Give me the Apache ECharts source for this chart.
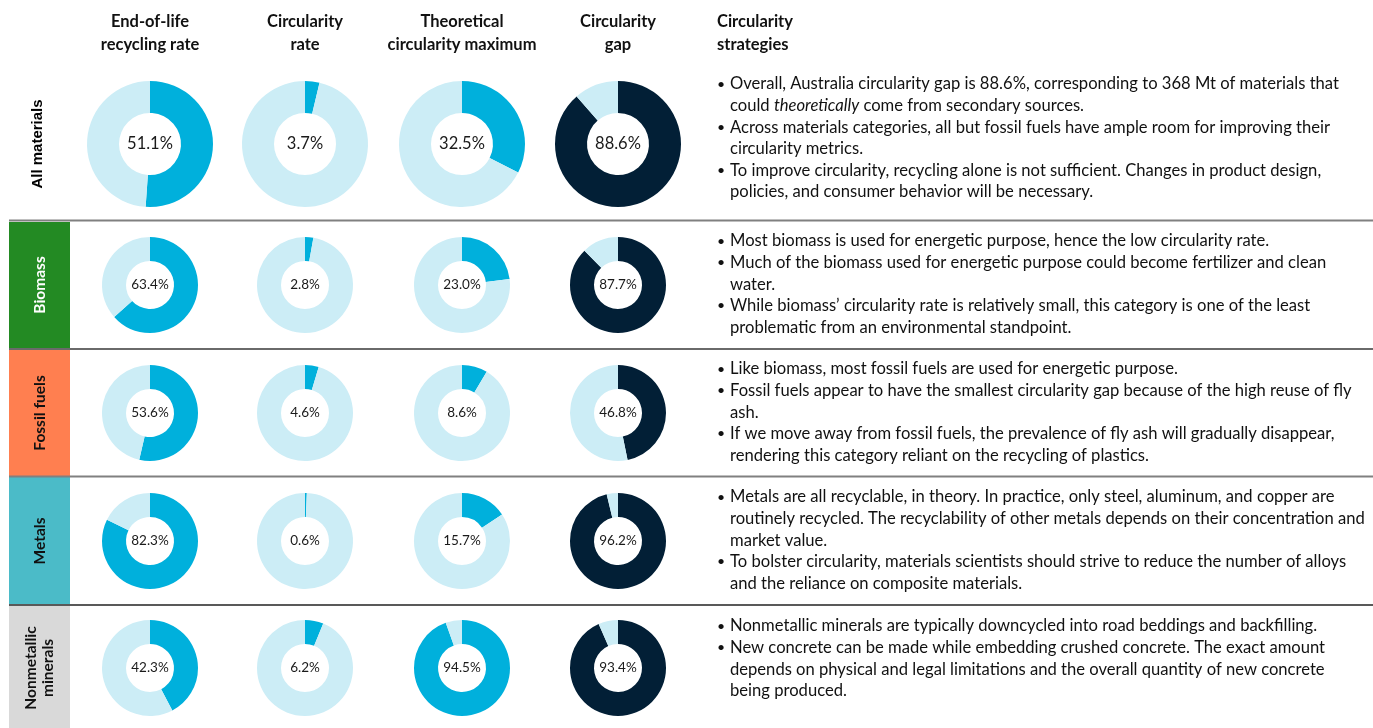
<!DOCTYPE html>
<html>
<head>
<meta charset="utf-8">
<script src="https://cdn.jsdelivr.net/npm/echarts@6/dist/echarts.min.js"></script>
<style>
html,body{margin:0;padding:0;background:#fff;}
#chart{width:1373px;height:728px;}
</style>
</head>
<body>
<div id="chart"></div>
<script>
// ---- data ----
const categories = ['All materials', 'Biomass', 'Fossil fuels', 'Metals', 'Nonmetallic\nminerals'];
const metricTitles = ['End-of-life\nrecycling rate', 'Circularity\nrate', 'Theoretical\ncircularity maximum', 'Circularity\ngap'];
const strategyTitle = 'Circularity\nstrategies';
const eolRecyclingRate = [51.1, 63.4, 53.6, 82.3, 42.3];
const circularityRate = [3.7, 2.8, 4.6, 0.6, 6.2];
const theoreticalMax = [32.5, 23.0, 8.6, 15.7, 94.5];
const circularityGap = [88.6, 87.7, 46.8, 96.2, 93.4];
const strategies = [
  [
    ['Overall, Australia circularity gap is 88.6%, corresponding to 368 Mt of materials that', '{n|could }{i|theoretically}{n| come from secondary sources.}'],
    ['Across materials categories, all but fossil fuels have ample room for improving their', 'circularity metrics.'],
    ['To improve circularity, recycling alone is not sufficient. Changes in product design,', 'policies, and consumer behavior will be necessary.']
  ],
  [
    ['Most biomass is used for energetic purpose, hence the low circularity rate.'],
    ['Much of the biomass used for energetic purpose could become fertilizer and clean', 'water.'],
    ['While biomass\u2019 circularity rate is relatively small, this category is one of the least', 'problematic from an environmental standpoint.']
  ],
  [
    ['Like biomass, most fossil fuels are used for energetic purpose.'],
    ['Fossil fuels appear to have the smallest circularity gap because of the high reuse of fly', 'ash.'],
    ['If we move away from fossil fuels, the prevalence of fly ash will gradually disappear,', 'rendering this category reliant on the recycling of plastics.']
  ],
  [
    ['Metals are all recyclable, in theory. In practice, only steel, aluminum, and copper are', 'routinely recycled. The recyclability of other metals depends on their concentration and', 'market value.'],
    ['To bolster circularity, materials scientists should strive to reduce the number of alloys', 'and the reliance on composite materials.']
  ],
  [
    ['Nonmetallic minerals are typically downcycled into road beddings and backfilling.'],
    ['New concrete can be made while embedding crushed concrete. The exact amount', 'depends on physical and legal limitations and the overall quantity of new concrete', 'being produced.']
  ]
];

// ---- layout / style ----
const FONT = 'Lato, "Noto Sans", sans-serif';
const BODY = 16.6;
const colX = [150, 305, 462, 618];
const rowY = [144, 285, 413, 541, 668];
const radii = [[31, 63], [24, 48], [24, 48], [24, 48], [24, 48]];
const labelSize = [16.5, 13.5, 13.5, 13.5, 13.5];
const textStartY = [84, 241, 369, 497, 626];
const lineH = 21.6;
const boxColors = [null, '#238a23', '#ff7f50', '#4bbbc8', '#d9d9d9'];
const boxText = [null, '#ffffff', '#111111', '#111111', '#111111'];
const boxTop = [null, 222, 350, 477, 606];
const boxBottom = [null, 348, 476, 604, 728];
const sepLines = [{y: 220.5, c: '#808080', w: 2}, {y: 349, c: '#6a6a6a', w: 2}, {y: 476.5, c: '#808080', w: 2}, {y: 605, c: '#222222', w: 1.5}];
const BLUE = '#00b0dc', LIGHT = '#ccedf6', NAVY = '#021f36';

const valuesByCol = [eolRecyclingRate, circularityRate, theoreticalMax, circularityGap];

const series = [];
for (let r = 0; r < categories.length; r++) {
  for (let c = 0; c < 4; c++) {
    const v = valuesByCol[c][r];
    series.push({
      type: 'pie',
      silent: true,
      animation: false,
      center: [colX[c], rowY[r]],
      radius: radii[r],
      startAngle: 90,
      clockwise: true,
      emphasis: {disabled: true},
      labelLine: {show: false},
      label: {
        show: true,
        position: 'center',
        fontFamily: FONT,
        fontSize: labelSize[r],
        color: '#1a1a1a',
        formatter: p => p.value.toFixed(1) + '%'
      },
      data: [
        {value: v, itemStyle: {color: c === 3 ? NAVY : BLUE}},
        {value: +(100 - v).toFixed(1), itemStyle: {color: LIGHT}, label: {show: false}}
      ]
    });
  }
}

const elements = [];
// row boxes
for (let r = 1; r < categories.length; r++) {
  elements.push({type: 'rect', shape: {x: 9, y: boxTop[r], width: 61, height: boxBottom[r] - boxTop[r]}, style: {fill: boxColors[r]}, z: 1});
}
// separator lines
sepLines.forEach(l => elements.push({type: 'line', shape: {x1: 9, y1: l.y, x2: 1373, y2: l.y}, style: {stroke: l.c, lineWidth: l.w}, z: 2}));
// row labels
elements.push({type: 'text', x: 38, y: rowY[0], rotation: Math.PI / 2,
  style: {text: categories[0], fill: '#000', fontSize: 15, fontWeight: 'bold', fontFamily: '"Liberation Sans", Arial, sans-serif', align: 'center', verticalAlign: 'middle'}, z: 3});
for (let r = 1; r < categories.length; r++) {
  elements.push({type: 'text', x: 39.5, y: rowY[r], rotation: Math.PI / 2,
    style: {text: categories[r], fill: boxText[r], fontSize: 15.5, fontWeight: 'bold', fontFamily: FONT, align: 'center', verticalAlign: 'middle', lineHeight: 17}, z: 3});
}
// column headers
metricTitles.forEach((t, i) => elements.push({type: 'text', x: colX[i], y: 33,
  style: {text: t, fill: '#111', fontSize: 16.5, fontWeight: 'bold', fontFamily: FONT, align: 'center', verticalAlign: 'middle', lineHeight: 23}, z: 3}));
elements.push({type: 'text', x: 717, y: 33,
  style: {text: strategyTitle, fill: '#111', fontSize: 16.5, fontWeight: 'bold', fontFamily: FONT, align: 'left', verticalAlign: 'middle', lineHeight: 23}, z: 3});
// strategy bullets
for (let r = 0; r < strategies.length; r++) {
  let y = textStartY[r];
  strategies[r].forEach(bullet => {
    elements.push({type: 'text', x: 717, y: y, style: {text: '\u2022', fill: '#111', fontSize: 14, fontFamily: FONT, align: 'left', verticalAlign: 'middle'}, z: 3});
    bullet.forEach(line => {
      elements.push({type: 'text', x: 730, y: y,
        style: {text: line, fill: '#111', fontSize: BODY, fontFamily: FONT, align: 'left', verticalAlign: 'middle',
          rich: {n: {fontSize: BODY, fontFamily: FONT, fill: '#111'}, i: {fontSize: BODY, fontFamily: FONT, fontStyle: 'italic', fill: '#111'}}}, z: 3});
      y += lineH;
    });
  });
}

const chart = echarts.init(document.getElementById('chart'), null, {renderer: 'canvas'});
chart.setOption({
  backgroundColor: '#ffffff',
  animation: false,
  series: series,
  graphic: {elements: elements}
});
</script>
</body>
</html>
